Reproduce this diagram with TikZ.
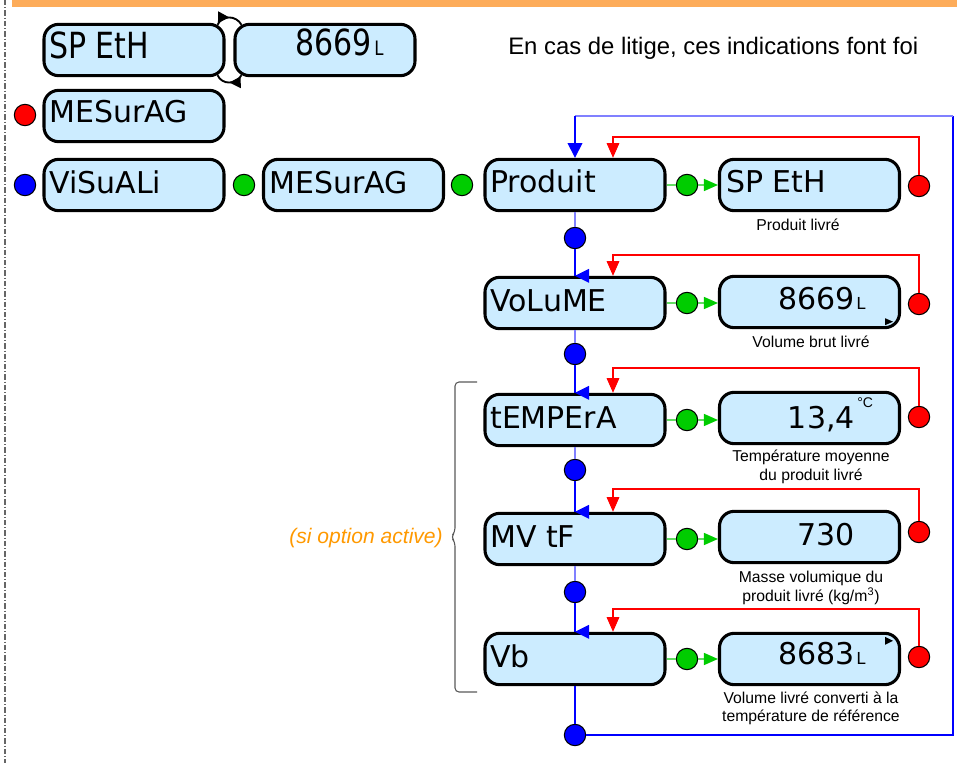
\documentclass[tikz,border=0pt]{standalone}
\usepackage{fontspec}
\setmainfont{DejaVu Sans}
\newfontfamily\capfont{Liberation Sans}
\usetikzlibrary{calc,arrows.meta,decorations.markings}
\definecolor{boxfill}{RGB}{204,236,255}
\definecolor{gr}{RGB}{0,204,0}
\definecolor{grline}{RGB}{100,220,100}
\definecolor{bl}{RGB}{0,0,255}
\definecolor{bllight}{RGB}{128,128,255}
\definecolor{rd}{RGB}{255,0,0}
\definecolor{orangeband}{RGB}{253,172,90}
\definecolor{orangetxt}{RGB}{255,153,0}
\tikzset{
  dbox/.style={draw=black, line width=2.3pt, fill=boxfill, rounded corners=11pt,
    minimum width=135pt, minimum height=38.5pt, inner sep=0pt},
  cdot/.style={circle, draw=black, line width=0.8pt, minimum size=16pt, inner sep=0pt},
  gdot/.style={cdot, fill=gr},
  rdot/.style={cdot, fill=rd},
  bdot/.style={cdot, fill=bl},
  btxt/.style={font=\fontsize{22.5}{27}\selectfont, inner sep=0pt},
  utxt/.style={font=\fontsize{12.4}{14}\selectfont, inner sep=0pt, anchor=base west},
  captxt/.style={font=\capfont\fontsize{11.8}{14}\selectfont, inner sep=0pt, anchor=base},
  bline/.style={draw=bl, line width=1.1pt},
  blight/.style={draw=bllight, line width=1.1pt},
  rline/.style={draw=rd, line width=0.8pt, -{Triangle[length=11pt,width=9.5pt]}},
  gline/.style={draw=grline, line width=1.1pt},
  garrow/.style={gline, -{Triangle[length=10.5pt,width=9pt,color=gr,fill=gr]}},
  swaparc/.style={line width=1.4pt, postaction={decorate},
    decoration={markings, mark=at position 0.5 with {\arrow{Triangle[length=8.5pt,width=8.5pt]}}}}
}
\begin{document}
\begin{tikzpicture}[x=0.75pt, y=-0.75pt]
\useasboundingbox (0,0) rectangle (957,763);
% frame
\fill[orangeband] (12,0) rectangle (957,7.3);
\draw[black!60, line width=0.8pt, dash pattern=on 4pt off 1.5pt on 0.8pt off 1.5pt] (5,0) -- (5,763);

% top-left row
\node[dbox] (sp0) at (134,50) {};
\node[dbox] (v0) at (325,50) {};
\node[btxt, anchor=base west] (sp0t) at (49,59) {\scalebox{1}[1.2]{SP EtH}};
\node[btxt, anchor=base east] (v0t) at (372,56) {\scalebox{1}[1.2]{8669}};
\node[utxt] (v0u) at (374,56) {\scalebox{1}[1.2]{L}};
\draw[swaparc] ($(sp0.north east)+(-8,2)$) .. controls (222,15) and (236,15) .. ($(v0.north west)+(8,2)$);
\draw[swaparc] ($(v0.south west)+(8,-2)$) .. controls (236,85) and (222,85) .. ($(sp0.south east)+(-8,-2)$);

\node[rdot] (rm) at (25,115) {};
\node[dbox] (m0) at (134,116) {};
\node[btxt, anchor=base west] at (49,123) {MESurAG};

\node[bdot] (bv) at (25,185) {};
\node[dbox] (vis) at (134,185) {};
\node[btxt, anchor=base west] at (49,194) {ViSuALi};
\node[gdot] (gv) at (244,185) {};
\node[dbox] (mes) at (353.5,185) {};
\node[btxt, anchor=base west] at (269,194) {MESurAG};
\node[gdot] (gm) at (462,185) {};

\node[font=\capfont\fontsize{17.9}{20}\selectfont, anchor=base west, inner sep=0pt] (hdr) at (508,55) {En cas de litige, ces indications font foi};

% main column boxes
\node[dbox] (p1) at (575,185) {};
\node[dbox] (p2) at (575,303) {};
\node[dbox] (p3) at (575,420) {};
\node[dbox] (p4) at (575,539) {};
\node[dbox] (p5) at (575,659) {};
\node[btxt, anchor=base west] at (490,193) {Produit};
\node[btxt, anchor=base west] at (490,311) {VoLuME};
\node[btxt, anchor=base west] at (490,428) {tEMPErA};
\node[btxt, anchor=base west] at (490,547) {MV tF};
\node[btxt, anchor=base west] at (490,667) {Vb};

% right boxes
\node[dbox] (r1) at (809.5,185) {};
\node[dbox] (r2) at (809.5,302) {};
\node[dbox] (r3) at (809.5,418) {};
\node[dbox] (r4) at (809.5,537) {};
\node[dbox] (r5) at (809.5,659) {};
\node[btxt, anchor=base west] at (726,193) {SP EtH};
\node[btxt, anchor=base east] at (855,309) {8669};
\node[utxt] at (856,309) {L};
\node[btxt, anchor=base east] at (855,428) {13,4};
\node[font=\capfont\fontsize{10.5}{12}\selectfont, inner sep=0pt, anchor=base west] at (857,407) {\textdegree C};
\node[btxt, anchor=base east] at (855,545) {730};
\node[btxt, anchor=base east] at (855,664) {8683};
\node[utxt] at (856,664) {L};
\fill ($(r2.south east)+(-16,-11)$) -- ++(0,7) -- ++(8,-3.5) -- cycle;
\fill ($(r5.north east)+(-16,5)$) -- ++(0,8) -- ++(8,-4) -- cycle;

% captions
\node[captxt] at (798,230) {Produit livré};
\node[captxt] at (811,347) {Volume brut livré};
\node[captxt] at (811,461) {Température moyenne};
\node[captxt] at (811,480) {du produit livré};
\node[captxt] at (811,582) {Masse volumique du};
\node[captxt] at (811,601) {produit livré (kg/m\textsuperscript{3})};
\node[captxt] at (811,703) {Volume livré converti à la};
\node[captxt] at (811,721) {température de référence};

% green connectors
\foreach \i in {1,...,5}{
  \node[gdot] (g\i) at (p\i.east -| 687,0) {};
}
\foreach \i in {1,...,5}{
  \draw[gline] (p\i.east) -- (g\i);
  \draw[garrow] (g\i.east) -- (g\i.east -| r\i.west);
}

% red dots and loops
\node[rdot] (q1) at (919,186) {};
\node[rdot] (q2) at (919,304) {};
\node[rdot] (q3) at (919,417) {};
\node[rdot] (q4) at (919,532) {};
\node[rdot] (q5) at (919,657) {};
\draw[rline] (q1.north) |- (613,137) -- ($(p1.north)+(38,0)$);
\draw[rline] (q2.north) |- (613,255) -- ($(p2.north)+(38,0)$);
\draw[rline] (q3.north) |- (613,368) -- ($(p3.north)+(38,0)$);
\draw[rline] (q4.north) |- (613,489) -- ($(p4.north)+(38,0)$);
\draw[rline] (q5.north) |- (613,609) -- ($(p5.north)+(38,0)$);

% blue chain
\node[bdot] (b1) at (575,238) {};
\node[bdot] (b2) at (575,354) {};
\node[bdot] (b3) at (575,470) {};
\node[bdot] (b4) at (575,592) {};
\node[bdot] (b5) at (575,735) {};
\draw[blight] (p1.south) -- (b1.north);
\draw[bline] (b1.south) -- (p2.north);
\draw[blight] (p2.south) -- (b2.north);
\draw[bline] (b2.south) -- (p3.north);
\draw[blight] (p3.south) -- (b3.north);
\draw[bline] (b3.south) -- (p4.north);
\draw[blight] (p4.south) -- (b4.north);
\draw[bline] (b4.south) -- (p5.north);
\draw[bline] (p5.south) -- (b5.north);
\coordinate (cbr) at (953,735);
\coordinate (ctr) at (953,116);
\coordinate (ctl) at (575,116);
\draw[bline] (b5.east) -- (cbr) -- (ctr);
\draw[blight] (ctr) -- (ctl);
\draw[bline, -{Triangle[length=11pt,width=11pt]}] (ctl) -- (p1.north);
\foreach \i in {2,...,5}{
  \fill[bl] (p\i.north) -- ++(14,-7) -- ++(0,14) -- cycle;
}

% brace and note
\draw[black!65, line width=0.8pt, rounded corners=3pt] (477,382) -- (455,382) -- (455,532) -- (451,537) -- (455,542) -- (455,692) -- (477,692);
\node[font=\capfont\itshape\fontsize{15.8}{18}\selectfont, text=orangetxt, anchor=base east, inner sep=0pt] (opt) at (443,543) {(si option active)};
\end{tikzpicture}
\end{document}
